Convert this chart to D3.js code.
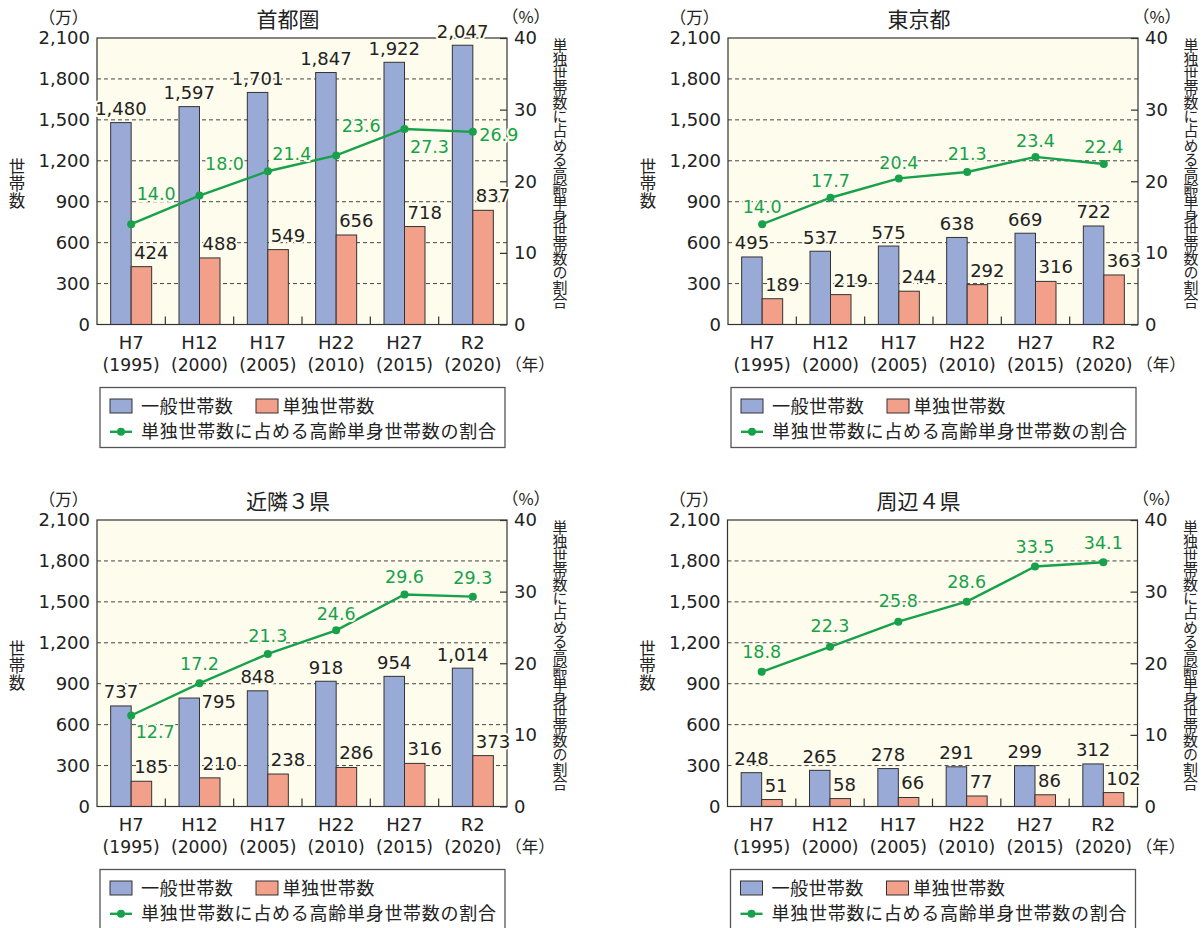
<!DOCTYPE html>
<html><head><meta charset="utf-8">
<script src="https://cdn.jsdelivr.net/npm/d3@7"></script>
<style>
html,body{margin:0;padding:0;background:#fff;}
svg{display:block;}
</style></head>
<body>
<svg id="chart" width="1203" height="928"></svg>
<script>
// ---- data ----
const eraLabels = ["H7","H12","H17","H22","H27","R2"];
const yearLabels = ["(1995)","(2000)","(2005)","(2010)","(2015)","(2020)"];
const panelTitles = ["首都圏","東京都","近隣３県","周辺４県"];

const generalShuto  = [1480,1597,1701,1847,1922,2047];
const singleShuto   = [424,488,549,656,718,837];
const ratioShuto    = [14.0,18.0,21.4,23.6,27.3,26.9];

const generalTokyo  = [495,537,575,638,669,722];
const singleTokyo   = [189,219,244,292,316,363];
const ratioTokyo    = [14.0,17.7,20.4,21.3,23.4,22.4];

const generalKinrin = [737,795,848,918,954,1014];
const singleKinrin  = [185,210,238,286,316,373];
const ratioKinrin   = [12.7,17.2,21.3,24.6,29.6,29.3];

const generalShuhen = [248,265,278,291,299,312];
const singleShuhen  = [51,58,66,77,86,102];
const ratioShuhen   = [18.8,22.3,25.8,28.6,33.5,34.1];

const leftTicks  = [0,300,600,900,1200,1500,1800,2100];
const rightTicks = [0,10,20,30,40];

const legendGeneral = "一般世帯数";
const legendSingle  = "単独世帯数";
const legendRatio   = "単独世帯数に占める高齢単身世帯数の割合";
const leftTitle  = "世帯数";
const rightTitle = "単独世帯数に占める高齢単身世帯数の割合";
const leftUnit = "（万）", rightUnit = "（%）", xUnit = "（年）";

// ---- label placement (layout, not data) ----
const greenOffsets = [
  [[25,-31],[25,-32],[24,-18],[25,-30],[25,18],[26,3]],
  [[0,-18],[0,-17],[0,-16],[0,-18],[0,-16],[0,-17]],
  [[24,16],[0,-20],[0,-18],[0,-17],[0,-18],[0,-19]],
  [[0,-20],[0,-21],[0,-21],[0,-20],[0,-20],[0,-20]]
];
const blueModes = [
  ["top","top","top","top","top","top"],
  ["top","top","top","top","top","top"],
  ["top","right","top","top","top","top"],
  ["top","top","top","top","top","top"]
];

const C = {
  bg:"#FEFCEC", blue:"#9AAAD7", red:"#F3A08A", green:"#17A14B",
  text:"#222", stroke:"#333", grid:"#444"
};
const NUM = "'DejaVu Sans', sans-serif";
const JP = "'Noto Sans CJK JP', sans-serif";

const panels = [
  {title:panelTitles[0], g:generalShuto,  s:singleShuto,  r:ratioShuto,  left:97,    top:38},
  {title:panelTitles[1], g:generalTokyo,  s:singleTokyo,  r:ratioTokyo,  left:728,   top:38},
  {title:panelTitles[2], g:generalKinrin, s:singleKinrin, r:ratioKinrin, left:97,    top:520},
  {title:panelTitles[3], g:generalShuhen, s:singleShuhen, r:ratioShuhen, left:727.5, top:520}
];
const PW = 410, PH = 286.5;

const svg = d3.select("#chart");

panels.forEach((p, pi) => {
  const L = p.left, T = p.top, R = L + PW, B = T + PH;
  const x = d3.scaleBand().domain(eraLabels).range([L, R]).padding(0);
  const y = d3.scaleLinear().domain([0,2100]).range([B, T]);
  const yr = d3.scaleLinear().domain([0,40]).range([B, T]);
  const bw = x.bandwidth() * 0.3;
  const cx = d => x(d) + x.bandwidth()/2;
  const g = svg.append("g");

  // background
  g.append("rect").attr("x",L).attr("y",T).attr("width",PW).attr("height",PH).attr("fill",C.bg);

  // grid
  g.selectAll(".grid").data(leftTicks.filter(v => v>0 && v<2100)).join("line")
    .attr("x1",L).attr("x2",R).attr("y1",d=>y(d)).attr("y2",d=>y(d))
    .attr("stroke",C.grid).attr("stroke-width",1).attr("stroke-dasharray","4,3");

  // bars
  g.selectAll(".bg").data(p.g).join("rect")
    .attr("x",(d,i)=>cx(eraLabels[i]) - bw).attr("y",d=>y(d))
    .attr("width",bw).attr("height",d=>B - y(d))
    .attr("fill",C.blue).attr("stroke",C.stroke).attr("stroke-width",1);
  g.selectAll(".bs").data(p.s).join("rect")
    .attr("x",(d,i)=>cx(eraLabels[i])).attr("y",d=>y(d))
    .attr("width",bw).attr("height",d=>B - y(d))
    .attr("fill",C.red).attr("stroke",C.stroke).attr("stroke-width",1);

  // frame
  g.append("rect").attr("x",L).attr("y",T).attr("width",PW).attr("height",PH)
    .attr("fill","none").attr("stroke",C.stroke).attr("stroke-width",1.2);

  // x band ticks
  g.selectAll(".xt").data(eraLabels.slice(1)).join("line")
    .attr("x1",d=>x(d)).attr("x2",d=>x(d)).attr("y1",B).attr("y2",B-8)
    .attr("stroke",C.stroke).attr("stroke-width",1.2);

  // left axis
  const la = g.append("g").attr("transform",`translate(${L},0)`)
    .call(d3.axisLeft(y).tickValues(leftTicks).tickFormat(d3.format(",")).tickSize(0).tickPadding(7));
  la.select(".domain").remove();
  la.selectAll("text").attr("font-family",NUM).attr("font-size",18).attr("fill",C.text);

  // right axis
  const ra = g.append("g").attr("transform",`translate(${R},0)`)
    .call(d3.axisRight(yr).tickValues(rightTicks).tickSizeInner(-7).tickSizeOuter(0).tickPadding(7));
  ra.select(".domain").remove();
  ra.selectAll("line").attr("stroke",C.stroke).attr("stroke-width",1.2);
  ra.selectAll("text").attr("font-family",NUM).attr("font-size",18).attr("fill",C.text);

  // x labels
  g.selectAll(".xl1").data(eraLabels).join("text")
    .attr("x",d=>cx(d)).attr("y",B+18).attr("dy","0.36em").attr("text-anchor","middle")
    .attr("font-family",NUM).attr("font-size",18).attr("fill",C.text).text(d=>d);
  g.selectAll(".xl2").data(yearLabels).join("text")
    .attr("x",(d,i)=>cx(eraLabels[i])).attr("y",B+40).attr("dy","0.36em").attr("text-anchor","middle")
    .attr("font-family",NUM).attr("font-size",17.2).attr("fill",C.text).text(d=>d);
  g.append("text").attr("x",R+23).attr("y",B+41).attr("dy","0.36em").attr("text-anchor","middle")
    .attr("font-family",JP).attr("font-size",16.5).attr("fill",C.text).text(xUnit);

  // units and title
  g.append("text").attr("x",L-33.5).attr("y",T-20).attr("dy","0.36em").attr("text-anchor","middle")
    .attr("font-family",JP).attr("font-size",16.5).attr("fill",C.text).text(leftUnit);
  g.append("text").attr("x",R+19).attr("y",T-20.5).attr("dy","0.36em").attr("text-anchor","middle")
    .attr("font-family",JP).attr("font-size",16.5).attr("fill",C.text).text(rightUnit);
  g.append("text").attr("x",L+191).attr("y",T-19).attr("dy","0.36em").attr("text-anchor","middle")
    .attr("font-family",JP).attr("font-size",21).attr("fill",C.text).text(p.title);

  // vertical titles (vertical writing mode)
  g.append("text").attr("x",L-80).attr("y",T+120).attr("text-anchor","start")
    .style("writing-mode","vertical-rl").style("letter-spacing","0.5px")
    .attr("font-family",JP).attr("font-size",16.5).attr("fill",C.text).text(leftTitle);
  g.append("text").attr("x",R+53).attr("y",T).attr("text-anchor","start")
    .style("writing-mode","vertical-rl").style("letter-spacing","-0.8px")
    .attr("font-family",JP).attr("font-size",15).attr("fill",C.text).text(rightTitle);

  // bar labels
  const fmt = d3.format(",");
  g.selectAll(".lb").data(p.g).join("text")
    .attr("x",(d,i)=> blueModes[pi][i]==="right" ? cx(eraLabels[i]) + 2 : cx(eraLabels[i]) - bw/2)
    .attr("y",(d,i)=> blueModes[pi][i]==="right" ? y(d) + 3 : y(d) - 14)
    .attr("dy","0.36em")
    .attr("text-anchor",(d,i)=> blueModes[pi][i]==="right" ? "start" : "middle")
    .attr("font-family",NUM).attr("font-size",18).attr("fill",C.text)
    .attr("stroke",C.bg).attr("stroke-width",4).attr("paint-order","stroke").attr("stroke-linejoin","round")
    .text(d=>fmt(d));
  g.selectAll(".ls").data(p.s).join("text")
    .attr("x",(d,i)=>cx(eraLabels[i]) + 3).attr("y",d=>y(d) - 14.5).attr("dy","0.36em")
    .attr("text-anchor","start")
    .attr("font-family",NUM).attr("font-size",18).attr("fill",C.text)
    .attr("stroke",C.bg).attr("stroke-width",4).attr("paint-order","stroke").attr("stroke-linejoin","round")
    .text(d=>fmt(d));

  // ratio line
  const line = d3.line().x((d,i)=>cx(eraLabels[i])).y(d=>yr(d));
  g.append("path").datum(p.r).attr("d",line).attr("fill","none")
    .attr("stroke",C.green).attr("stroke-width",2.4);
  g.selectAll(".dot").data(p.r).join("circle")
    .attr("cx",(d,i)=>cx(eraLabels[i])).attr("cy",d=>yr(d)).attr("r",4).attr("fill",C.green);
  g.selectAll(".lr").data(p.r).join("text")
    .attr("x",(d,i)=>cx(eraLabels[i]) + greenOffsets[pi][i][0])
    .attr("y",(d,i)=>yr(d) + greenOffsets[pi][i][1]).attr("dy","0.36em")
    .attr("text-anchor","middle")
    .attr("font-family",NUM).attr("font-size",17.5).attr("fill",C.green)
    .attr("stroke",C.bg).attr("stroke-width",4).attr("paint-order","stroke").attr("stroke-linejoin","round")
    .text(d=>d.toFixed(1));

  // legend
  const LX = L + 3, LY = B + 63;
  const lg = g.append("g");
  lg.append("rect").attr("x",LX).attr("y",LY).attr("width",405).attr("height",60)
    .attr("fill","#fff").attr("stroke","#555").attr("stroke-width",1.3);
  const r1 = LY + 18.5, r2 = LY + 44.3;
  lg.append("rect").attr("x",LX+10).attr("y",r1-7).attr("width",22).attr("height",14)
    .attr("fill",C.blue).attr("stroke",C.stroke).attr("stroke-width",1);
  lg.append("text").attr("x",LX+41).attr("y",r1).attr("dy","0.36em")
    .attr("font-family",JP).attr("font-size",18.2).attr("fill",C.text)
    .attr("textLength",92).attr("lengthAdjust","spacing").text(legendGeneral);
  lg.append("rect").attr("x",LX+156).attr("y",r1-7).attr("width",22).attr("height",14)
    .attr("fill",C.red).attr("stroke",C.stroke).attr("stroke-width",1);
  lg.append("text").attr("x",LX+182.5).attr("y",r1).attr("dy","0.36em")
    .attr("font-family",JP).attr("font-size",18.2).attr("fill",C.text)
    .attr("textLength",92).attr("lengthAdjust","spacing").text(legendSingle);
  lg.append("line").attr("x1",LX+10).attr("x2",LX+32).attr("y1",r2).attr("y2",r2)
    .attr("stroke",C.green).attr("stroke-width",2.4);
  lg.append("circle").attr("cx",LX+21).attr("cy",r2).attr("r",4).attr("fill",C.green);
  lg.append("text").attr("x",LX+41).attr("y",r2).attr("dy","0.36em")
    .attr("font-family",JP).attr("font-size",18).attr("fill",C.text)
    .attr("textLength",355).attr("lengthAdjust","spacing").text(legendRatio);
});
</script>
</body></html>
